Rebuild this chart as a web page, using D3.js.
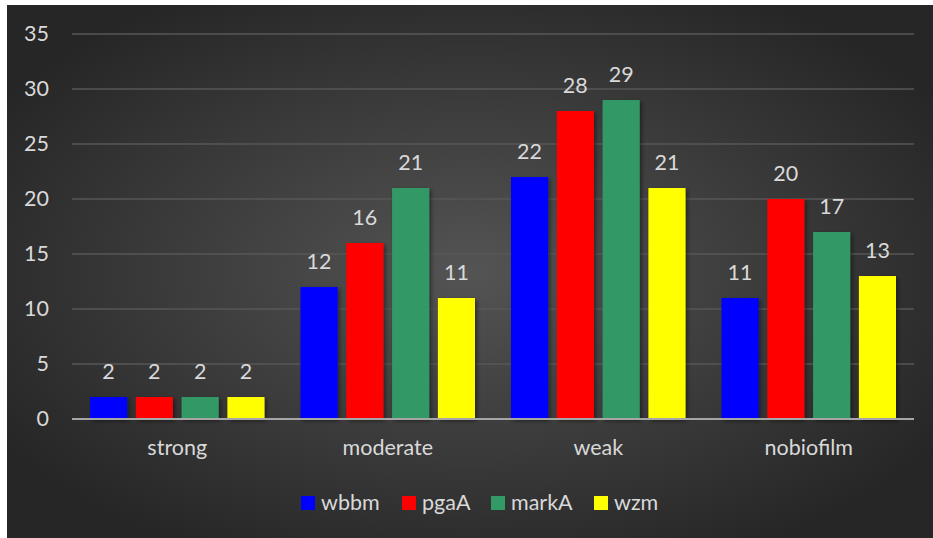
<!DOCTYPE html>
<html>
<head>
<meta charset="utf-8">
<script src="https://cdn.jsdelivr.net/npm/d3@7"></script>
<style>
  html, body { margin: 0; padding: 0; background: #ffffff; }
  svg { display: block; }
  text { font-family: Lato, "Open Sans", sans-serif; fill: #d9d9d9; }
</style>
</head>
<body>
<div id="chart"></div>
<script>
// data
var categories = ["strong", "moderate", "weak", "nobiofilm"];
var seriesNames = ["wbbm", "pgaA", "markA", "wzm"];
var seriesColors = ["#0000ff", "#ff0000", "#339966", "#ffff00"];
var wbbm  = [2, 12, 22, 11];
var pgaA  = [2, 16, 28, 20];
var markA = [2, 21, 29, 17];
var wzm   = [2, 11, 21, 13];
var yTicks = [0, 5, 10, 15, 20, 25, 30, 35];

var values = [wbbm, pgaA, markA, wzm];

var W = 933, H = 538;
var margin = {top: 34, right: 19, bottom: 119, left: 72};
var width = W - margin.left - margin.right,
    height = H - margin.top - margin.bottom;
var fs = "21.5px";

var svg = d3.select("#chart").append("svg")
    .attr("width", W)
    .attr("height", H);

var defs = svg.append("defs");
var grad = defs.append("radialGradient")
    .attr("id", "bg")
    .attr("cx", "50%").attr("cy", "50%").attr("r", "60%");
grad.append("stop").attr("offset", "0%").attr("stop-color", "#545454");
grad.append("stop").attr("offset", "100%").attr("stop-color", "#262626");

var shadow = defs.append("filter")
    .attr("id", "shadow")
    .attr("x", "-20%").attr("y", "-20%").attr("width", "140%").attr("height", "140%");
shadow.append("feDropShadow")
    .attr("dx", 2).attr("dy", 2).attr("stdDeviation", 2)
    .attr("flood-color", "#000").attr("flood-opacity", 0.45);

// chart area (white strip on top and left like the original)
svg.append("rect")
    .attr("x", 7).attr("y", 5)
    .attr("width", W - 7).attr("height", H - 5)
    .attr("fill", "url(#bg)");

var g = svg.append("g")
    .attr("transform", "translate(" + margin.left + "," + margin.top + ")");

// scales
var x0 = d3.scaleBand().domain(categories).range([0, width]).padding(0);
var x1 = d3.scaleBand().domain(seriesNames)
    .range([18, x0.bandwidth() - 18])
    .paddingInner(0.19);
var y = d3.scaleLinear().domain([0, 35]).range([height, 0]);
var color = d3.scaleOrdinal().domain(seriesNames).range(seriesColors);

// gridlines
g.append("g")
  .selectAll("line")
  .data(yTicks.filter(function(d) { return d > 0; }))
  .enter().append("line")
    .attr("x1", 0).attr("x2", width)
    .attr("y1", function(d) { return y(d); })
    .attr("y2", function(d) { return y(d); })
    .attr("stroke", "#575757")
    .attr("stroke-width", 1.5);

// y axis labels
var yAxis = d3.axisLeft(y).tickValues(yTicks).tickSize(0).tickPadding(23);
g.append("g")
    .attr("class", "yaxis")
    .call(yAxis)
    .call(function(a) { a.select(".domain").remove(); })
    .selectAll("text")
    .style("font-size", fs)
    .attr("fill", "#d9d9d9");

// bars
var groups = g.selectAll(".group")
  .data(categories)
  .enter().append("g")
    .attr("class", "group")
    .attr("transform", function(d) { return "translate(" + x0(d) + ",0)"; });

groups.selectAll("rect")
  .data(function(c, i) {
    return seriesNames.map(function(s, j) { return {key: s, value: values[j][i]}; });
  })
  .enter().append("rect")
    .attr("x", function(d) { return x1(d.key); })
    .attr("y", function(d) { return y(d.value); })
    .attr("width", x1.bandwidth())
    .attr("height", function(d) { return height - y(d.value); })
    .attr("fill", function(d) { return color(d.key); })
    .attr("filter", "url(#shadow)");

// value labels
groups.selectAll(".val")
  .data(function(c, i) {
    return seriesNames.map(function(s, j) { return {key: s, value: values[j][i]}; });
  })
  .enter().append("text")
    .attr("class", "val")
    .attr("x", function(d) { return x1(d.key) + x1.bandwidth() / 2; })
    .attr("y", function(d) { return y(d.value) - 18; })
    .attr("text-anchor", "middle")
    .style("font-size", fs)
    .text(function(d) { return d.value; });

// zero line
g.append("line")
    .attr("x1", 0).attr("x2", width)
    .attr("y1", y(0)).attr("y2", y(0))
    .attr("stroke", "#a6a6a6")
    .attr("stroke-width", 2);

// x axis labels
var xAxis = d3.axisBottom(x0).tickSize(0).tickPadding(21);
g.append("g")
    .attr("transform", "translate(0," + height + ")")
    .call(xAxis)
    .call(function(a) { a.select(".domain").remove(); })
    .selectAll("text")
    .style("font-size", fs)
    .attr("fill", "#d9d9d9");

// legend
var legendX = [301, 402, 491, 594];
var legend = svg.append("g")
  .selectAll("g")
  .data(seriesNames)
  .enter().append("g")
    .attr("transform", function(d, i) { return "translate(" + legendX[i] + ",509)"; });

legend.append("rect")
    .attr("x", 0).attr("y", -13)
    .attr("width", 14).attr("height", 14)
    .attr("fill", function(d) { return color(d); });

legend.append("text")
    .attr("x", 20).attr("y", 0)
    .attr("dy", "0.05em")
    .style("font-size", fs)
    .text(function(d) { return d; });
</script>
</body>
</html>
